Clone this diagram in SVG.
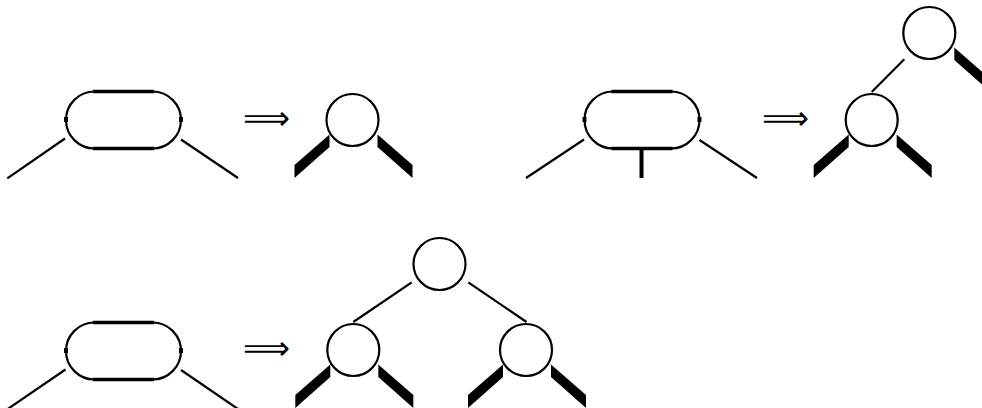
<svg xmlns="http://www.w3.org/2000/svg" width="982" height="408" viewBox="0 0 982 408">
  <style>
    .bg { fill: #ffffff; }
    .arc { fill: none; stroke: #000; stroke-width: 2.2; }
    .flat { fill: none; stroke: #000; stroke-width: 3.5; }
    .mark { fill: none; stroke: #000; stroke-width: 4; }
    .node { fill: #ffffff; stroke: #000; stroke-width: 2.2; }
    .edge { fill: none; stroke: #000; stroke-width: 2.2; }
    .stem { fill: none; stroke: #000; stroke-width: 4; }
    .sub { fill: #000; stroke: none; }
    .arrow { font-family: "DejaVu Sans", sans-serif; font-size: 32px; fill: #000; }
  </style>
  <defs>
    <!-- rounded "fat node": thin end arcs, heavy straight sides, small ticks at the ends -->
    <g id="pill">
      <path class="arc" d="M -29,-28.5 A 28.5 28.5 0 0 0 -29,28.5"/>
      <path class="arc" d="M 29,-28.5 A 28.5 28.5 0 0 1 29,28.5"/>
      <path class="flat" d="M -30.5,-28.5 H 30.5 M -30.5,28.5 H 30.5"/>
      <path class="mark" d="M -57.5,-3 V 2 M 57.5,-3 V 2"/>
    </g>
    <!-- heavy subtree stubs hanging below a round node -->
    <polygon id="sub-left" class="sub" points="-23,14.5 -23,27 -58,58 -58,45"/>
    <polygon id="sub-right" class="sub" points="25,14.5 60,45 60,58 25,27"/>
  </defs>

  <rect class="bg" x="0" y="0" width="982" height="408"/>

  <!-- connectors -->
  <g id="connectors">
    <line class="edge" x1="7.3" y1="178.3" x2="65" y2="138.5"/>
    <line class="edge" x1="181" y1="139.5" x2="238" y2="178"/>
    <line class="edge" x1="526" y1="178" x2="584" y2="139.5"/>
    <line class="edge" x1="699.5" y1="140" x2="757" y2="178"/>
    <line class="stem" x1="641.5" y1="149" x2="641.5" y2="178"/>
    <line class="edge" x1="7.3" y1="409.3" x2="65.5" y2="369.5"/>
    <line class="edge" x1="181" y1="370" x2="238" y2="409"/>
    <line class="edge" x1="904.3" y1="59.3" x2="871.7" y2="92"/>
    <line class="edge" x1="411.7" y1="282.3" x2="353.3" y2="322"/>
    <line class="edge" x1="468.3" y1="282.3" x2="526.5" y2="322"/>

    <use href="#sub-left" x="352.5" y="120"/>
    <use href="#sub-right" x="352.5" y="120"/>
    <use href="#sub-right" x="929.3" y="33"/>
    <use href="#sub-left" x="871.7" y="120"/>
    <use href="#sub-right" x="871.7" y="120"/>
    <use href="#sub-left" x="353.3" y="350"/>
    <use href="#sub-right" x="353.3" y="350"/>
    <use href="#sub-left" x="526" y="350"/>
    <use href="#sub-right" x="526" y="350"/>
  </g>

  <!-- fat nodes -->
  <g id="fat1"><use href="#pill" x="123.5" y="120"/></g>
  <g id="fat2"><use href="#pill" x="642" y="120"/></g>
  <g id="fat3"><use href="#pill" x="123.5" y="351"/></g>

  <!-- round nodes -->
  <g id="n1"><circle class="node" cx="352.5" cy="120" r="26"/></g>
  <g id="n2"><circle class="node" cx="929.3" cy="33" r="26"/></g>
  <g id="n3"><circle class="node" cx="871.7" cy="120" r="26"/></g>
  <g id="n4"><circle class="node" cx="439.5" cy="264" r="26"/></g>
  <g id="n5"><circle class="node" cx="353.3" cy="350" r="26"/></g>
  <g id="n6"><circle class="node" cx="526" cy="350" r="26"/></g>

  <!-- transformation arrows -->
  <g id="arrows">
    <text class="arrow" x="243" y="129" textLength="47" lengthAdjust="spacingAndGlyphs">⟹</text>
    <text class="arrow" x="762" y="129" textLength="47" lengthAdjust="spacingAndGlyphs">⟹</text>
    <text class="arrow" x="243" y="359" textLength="47" lengthAdjust="spacingAndGlyphs">⟹</text>
  </g>
</svg>
